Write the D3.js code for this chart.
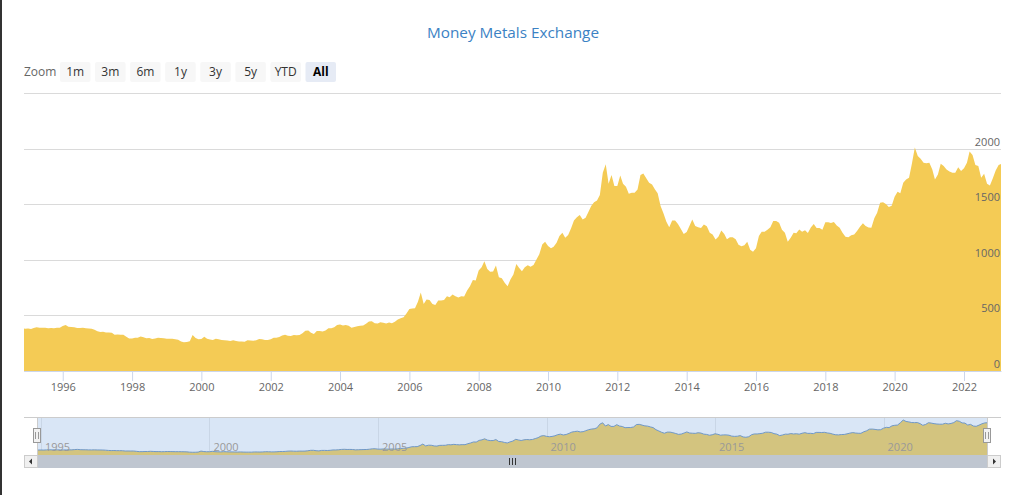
<!DOCTYPE html>
<html><head><meta charset="utf-8">
<script src="https://cdn.jsdelivr.net/npm/d3@7"></script>
<style>
html,body{margin:0;padding:0;background:#fff;}
svg{display:block;font-family:"Open Sans",sans-serif;}
</style></head>
<body><svg id="chart" width="1024" height="495"></svg>
<script>
// ---- data (monthly, starting Nov 1994) ----
const startYear = 1994, startMonth = 10; // November (0-based)
const prices = [
  384, 380,
  382, 378, 387, 394, 388, 390, 389, 385, 386, 385, 389, 390,
  404, 414, 399, 395, 393, 387, 386, 389, 385, 383, 380, 372,
  358, 350, 354, 346, 346, 343, 327, 328, 326, 327, 309, 293,
  293, 300, 299, 311, 303, 295, 296, 287, 293, 299, 297, 294,
  290, 291, 289, 285, 280, 265, 258, 260, 268, 323, 297, 286,
  288, 308, 290, 284, 279, 290, 286, 279, 277, 274, 270, 276,
  269, 265, 266, 264, 276, 274, 271, 277, 288, 286, 279, 279,
  286, 300, 298, 306, 320, 326, 318, 314, 323, 321, 323, 339,
  363, 365, 344, 333, 360, 360, 355, 365, 385, 384, 394, 413,
  419, 410, 413, 408, 389, 396, 402, 406, 410, 425, 446, 448,
  429, 428, 439, 434, 427, 436, 429, 443, 463, 475, 483, 518,
  558, 563, 565, 623, 705, 603, 643, 638, 603, 593, 633, 635,
  638, 673, 663, 688, 673, 661, 673, 671, 723, 763, 818, 813,
  903, 933, 988, 918, 893, 895, 948, 843, 833, 793, 763, 823,
  868, 963, 928, 898, 933, 951, 938, 953, 1003, 1051, 1138, 1163,
  1123, 1103, 1118, 1153, 1213, 1243, 1198, 1223, 1283, 1353, 1383, 1403,
  1363, 1378, 1428, 1483, 1518, 1533, 1583, 1783, 1860, 1683, 1763, 1663,
  1663, 1758, 1683, 1658, 1593, 1603, 1603, 1633, 1763, 1775, 1733, 1693,
  1678, 1633, 1598, 1483, 1418, 1343, 1293, 1353, 1353, 1321, 1278, 1231,
  1249, 1308, 1363, 1303, 1293, 1285, 1318, 1301, 1243, 1228, 1183, 1208,
  1263, 1233, 1185, 1203, 1203, 1185, 1135, 1121, 1131, 1163, 1091, 1073,
  1103, 1213, 1253, 1253, 1271, 1293, 1348, 1348, 1333, 1271, 1243, 1163,
  1198, 1243, 1238, 1273, 1253, 1265, 1241, 1291, 1323, 1285, 1287, 1271,
  1338, 1338, 1331, 1341, 1308, 1288, 1243, 1208, 1203, 1221, 1227, 1258,
  1298, 1328, 1305, 1291, 1289, 1373, 1423, 1513, 1518, 1501, 1475, 1485,
  1568, 1613, 1598, 1693, 1723, 1738, 1863, 2010, 1933, 1908, 1873, 1868,
  1873, 1813, 1723, 1768, 1863, 1843, 1813, 1793, 1783, 1783, 1833, 1798,
  1823, 1873, 1975, 1943, 1853, 1843, 1738, 1773, 1683, 1668, 1733, 1803,
  1853, 1863
];
const yTicks = [0, 500, 1000, 1500, 2000];
const yGrid = [0, 500, 1000, 1500, 2000, 2500];
const xTickYears = [1996, 1998, 2000, 2002, 2004, 2006, 2008, 2010, 2012, 2014, 2016, 2018, 2020, 2022];
const navTickYears = [1995, 2000, 2005, 2010, 2015, 2020];
const zoomButtons = ["1m", "3m", "6m", "1y", "3y", "5y", "YTD", "All"];
const selectedButton = "All";
const titleText = "Money Metals Exchange";

const data = prices.map((v, i) => ({date: d3.timeMonth.offset(new Date(startYear, startMonth, 1), i), value: v}));

// ---- layout ----
const svg = d3.select("#chart");
const W = 1024, H = 495;
const plot = {left: 24, right: 1001, top: 93, bottom: 371};
const nav = {left: 37, right: 987, top: 418, bottom: 455};
const xDomain = [new Date(1994, 10, 19), new Date(2023, 0, 26)];

svg.append("rect").attr("width", W).attr("height", H).attr("fill", "#fff");
svg.append("rect").attr("x", 0).attr("y", 0).attr("width", 2).attr("height", H).attr("fill", "#333");

// title
svg.append("text").attr("x", 513).attr("y", 38).attr("text-anchor", "middle")
  .attr("font-size", 15.3).attr("fill", "#3b82c4").text(titleText);

// range selector
const rs = svg.append("g");
rs.append("text").attr("x", 24).attr("y", 76).attr("font-size", 12).attr("fill", "#666").text("Zoom");
const bx = d3.scaleBand().domain(zoomButtons).range([60, 336]).paddingInner(0.13).paddingOuter(0);
zoomButtons.forEach(b => {
  const sel = b === selectedButton;
  rs.append("rect").attr("x", bx(b)).attr("y", 62).attr("width", bx.bandwidth()).attr("height", 20)
    .attr("rx", 2).attr("fill", sel ? "#e6ebf5" : "#f7f7f7");
  rs.append("text").attr("x", bx(b) + bx.bandwidth() / 2).attr("y", 76).attr("text-anchor", "middle")
    .attr("font-size", 12).attr("fill", sel ? "#000" : "#333").attr("font-weight", sel ? "bold" : "normal").text(b);
});

// scales
const x = d3.scaleTime().domain(xDomain).range([plot.left, plot.right]);
const y = d3.scaleLinear().domain([0, 2500]).range([plot.bottom, plot.top]);

svg.append("clipPath").attr("id", "clipMain").append("rect")
  .attr("x", plot.left).attr("y", plot.top).attr("width", plot.right - plot.left).attr("height", plot.bottom - plot.top);

// grid
svg.append("g").selectAll("line").data(yGrid).join("line")
  .attr("x1", plot.left).attr("x2", plot.right)
  .attr("y1", d => Math.round(y(d)) + 0.5).attr("y2", d => Math.round(y(d)) + 0.5)
  .attr("stroke", "#dadada").attr("stroke-width", 1);

// area
const area = d3.area().x(d => x(d.date)).y0(y(0)).y1(d => y(d.value)).curve(d3.curveLinear);
svg.append("path").datum(data).attr("clip-path", "url(#clipMain)")
  .attr("d", area).attr("fill", "#f4cb55");

// y labels (inside, right aligned, above grid line)
svg.append("g").selectAll("text").data(yTicks).join("text")
  .attr("x", plot.right - 1).attr("y", d => y(d) - 3).attr("text-anchor", "end")
  .attr("font-size", 11).attr("fill", "#666").text(d => d);

// x axis
const xAxis = d3.axisBottom(x).tickValues(xTickYears.map(yr => new Date(yr, 0, 1)))
  .tickFormat(d3.timeFormat("%Y")).tickSize(10).tickSizeOuter(0).tickPadding(4);
const gx = svg.append("g").attr("transform", `translate(0,${plot.bottom})`).call(xAxis);
gx.select(".domain").attr("stroke", "#ccd6eb");
gx.selectAll(".tick line").attr("stroke", "#ccd6eb");
gx.selectAll(".tick text").attr("font-size", 11).attr("fill", "#666").attr("font-family", "Open Sans, sans-serif").attr("dy", "0.55em");

// ---- navigator ----
const xn = d3.scaleTime().domain(xDomain).range([nav.left, nav.right]);
const yn = d3.scaleLinear().domain([110, 2120]).range([nav.bottom, nav.top]);
svg.append("clipPath").attr("id", "clipNav").append("rect")
  .attr("x", nav.left).attr("y", nav.top).attr("width", nav.right - nav.left).attr("height", nav.bottom - nav.top);

svg.append("rect").attr("x", nav.left).attr("y", nav.top).attr("width", nav.right - nav.left)
  .attr("height", nav.bottom - nav.top).attr("fill", "#d9e6f6");
svg.append("g").selectAll("line").data(navTickYears).join("line")
  .attr("x1", d => Math.round(xn(new Date(d, 0, 1))) + 0.5).attr("x2", d => Math.round(xn(new Date(d, 0, 1))) + 0.5)
  .attr("y1", nav.top).attr("y2", nav.bottom).attr("stroke", "#c9d6e6");
const navArea = d3.area().x(d => xn(d.date)).y0(nav.bottom).y1(d => yn(d.value));
const navLine = d3.line().x(d => xn(d.date)).y(d => yn(d.value));
svg.append("path").datum(data).attr("clip-path", "url(#clipNav)").attr("d", navArea).attr("fill", "#d3c47f");
svg.append("path").datum(data).attr("clip-path", "url(#clipNav)").attr("d", navLine)
  .attr("fill", "none").attr("stroke", "#6f98c9").attr("stroke-width", 1);
svg.append("g").selectAll("text").data(navTickYears).join("text")
  .attr("x", d => xn(new Date(d, 0, 1)) + 4).attr("y", 451)
  .attr("font-size", 11).attr("fill", "#999").text(d => d);

// outline
svg.append("line").attr("x1", plot.left).attr("x2", plot.right).attr("y1", nav.top - 0.5).attr("y2", nav.top - 0.5)
  .attr("stroke", "#cccccc");
[nav.left, nav.right].forEach(px => {
  svg.append("line").attr("x1", px + 0.5).attr("x2", px + 0.5).attr("y1", nav.top).attr("y2", nav.bottom).attr("stroke", "#cccccc");
});

// handles
[nav.left, nav.right].forEach(px => {
  const g = svg.append("g").attr("transform", `translate(${px},0)`);
  g.append("rect").attr("x", -3.5).attr("y", 428.5).attr("width", 7).attr("height", 14)
    .attr("fill", "#f2f2f2").attr("stroke", "#999").attr("stroke-width", 1);
  g.append("line").attr("x1", -1.5).attr("x2", -1.5).attr("y1", 432).attr("y2", 439).attr("stroke", "#999");
  g.append("line").attr("x1", 1.5).attr("x2", 1.5).attr("y1", 432).attr("y2", 439).attr("stroke", "#999");
});

// scrollbar
const sb = {top: 455, h: 13};
svg.append("rect").attr("x", nav.left).attr("y", sb.top).attr("width", nav.right - nav.left).attr("height", sb.h)
  .attr("fill", "#bfc6d0");
[[plot.left, "left"], [nav.right, "right"]].forEach(([px, dir]) => {
  svg.append("rect").attr("x", px + 0.5).attr("y", sb.top + 0.5).attr("width", 13).attr("height", sb.h - 1)
    .attr("fill", "#f0f0f0").attr("stroke", "#cccccc");
  const cx = px + 7, cy = sb.top + 6.5;
  const pts = dir === "left" ? [[cx - 2, cy], [cx + 1, cy - 3], [cx + 1, cy + 3]] : [[cx + 2, cy], [cx - 1, cy - 3], [cx - 1, cy + 3]];
  svg.append("path").attr("d", d3.line()(pts) + "Z").attr("fill", "#333");
});
[-3, 0, 3].forEach(o => {
  svg.append("line").attr("x1", 512.5 + o).attr("x2", 512.5 + o).attr("y1", 458).attr("y2", 465)
    .attr("stroke", "#333").attr("stroke-width", 1);
});
</script></body></html>
